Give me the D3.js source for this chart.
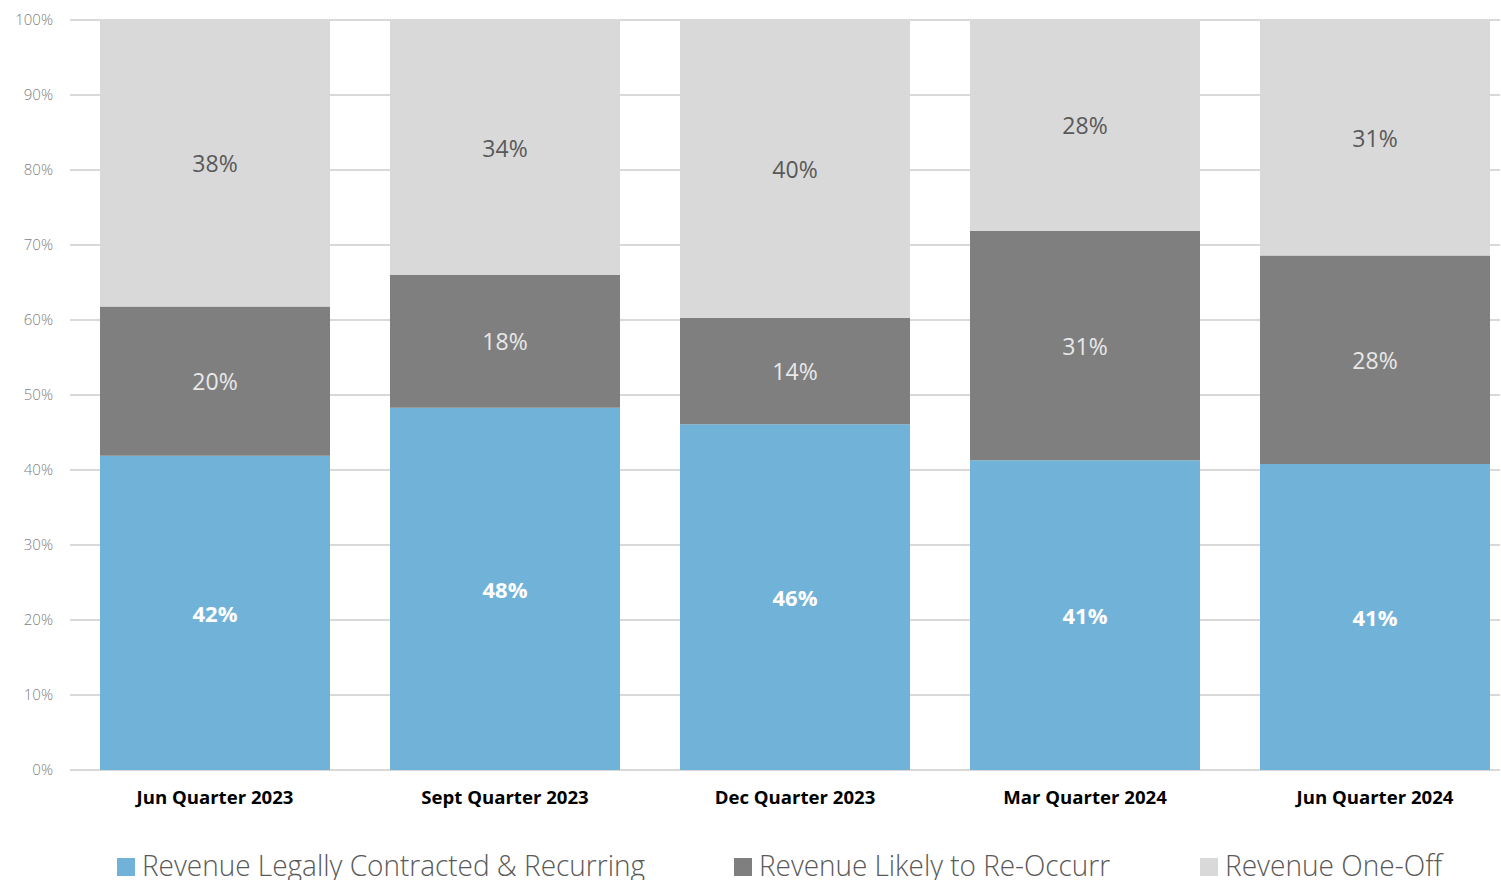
<!DOCTYPE html>
<html>
<head>
<meta charset="utf-8">
<script src="https://cdn.jsdelivr.net/npm/d3@7"></script>
<style>
  body { margin: 0; background: #fff; }
  svg { display: block; font-family: "Open Sans", sans-serif; }
</style>
</head>
<body>
<div id="chart"></div>
<script>
var categories = [
  "Jun Quarter 2023",
  "Sept Quarter 2023",
  "Dec Quarter 2023",
  "Mar Quarter 2024",
  "Jun Quarter 2024",
];
var seriesNames = [
  "Revenue Legally Contracted & Recurring",
  "Revenue Likely to Re-Occurr",
  "Revenue One-Off",
];
var contracted = [41.9, 48.3, 46.1, 41.3, 40.8];
var likely = [19.9, 17.7, 14.2, 30.6, 27.8];
var oneOff = [38.2, 34.0, 39.7, 28.1, 31.4];
var yTicks = [0, 10, 20, 30, 40, 50, 60, 70, 80, 90, 100];

var width = 1501,
  height = 880;
var colors = ["#71b2d9", "#7f7f7f", "#d9d9d9"];
var labelColors = ["#ffffff", "#e8e8e8", "#595959"];

var svg = d3
  .select("#chart")
  .append("svg")
  .attr("width", width)
  .attr("height", height);

var x = d3
  .scaleBand()
  .domain(categories)
  .range([70, 1520])
  .paddingInner(60 / 290)
  .paddingOuter(30 / 290);

var y = d3.scaleLinear().domain([0, 100]).range([770, 20]);

// gridlines
svg
  .selectAll(".grid")
  .data(yTicks)
  .enter()
  .append("line")
  .attr("x1", 70)
  .attr("x2", 1500)
  .attr("y1", (d) => y(d))
  .attr("y2", (d) => y(d))
  .style("stroke", "#d9d9d9")
  .style("stroke-width", "2px");

// y tick labels
svg
  .selectAll(".ytick")
  .data(yTicks)
  .enter()
  .append("text")
  .attr("x", 53)
  .attr("y", (d) => y(d) + 5)
  .attr("text-anchor", "end")
  .style("font-size", "15px")
  .style("font-weight", 300)
  .attr("fill", "#7f7f7f")
  .text((d) => d + "%");

// stack the data
var rows = categories.map(function (c, i) {
  return { cat: c, s0: contracted[i], s1: likely[i], s2: oneOff[i] };
});
var stack = d3.stack().keys(["s0", "s1", "s2"]);
var layers = stack(rows);

layers.forEach(function (layer, li) {
  svg
    .selectAll(".bar" + li)
    .data(layer)
    .enter()
    .append("rect")
    .attr("x", (d) => x(d.data.cat))
    .attr("width", x.bandwidth())
    .attr("y", (d) => y(d[1]))
    .attr("height", (d) => y(d[0]) - y(d[1]))
    .style("fill", colors[li]);

  svg
    .selectAll(".lab" + li)
    .data(layer)
    .enter()
    .append("text")
    .attr("x", (d) => x(d.data.cat) + x.bandwidth() / 2)
    .attr("y", (d) => (y(d[0]) + y(d[1])) / 2 + 9)
    .attr("text-anchor", "middle")
    .style("font-size", li == 0 ? "22px" : "23px")
    .style("font-weight", li == 0 ? 700 : 400)
    .attr("fill", labelColors[li])
    .text((d) => Math.round(d[1] - d[0]) + "%");
});

// x axis category labels
svg
  .selectAll(".xlab")
  .data(categories)
  .enter()
  .append("text")
  .attr("x", (d) => x(d) + x.bandwidth() / 2)
  .attr("y", 804)
  .attr("text-anchor", "middle")
  .style("font-size", "18.6px")
  .style("font-weight", 700)
  .attr("fill", "#000")
  .text((d) => d);

// legend
var legendX = [117, 734, 1200];
var legendW = [503, 351, 217];
var legend = svg
  .selectAll(".legend")
  .data(seriesNames)
  .enter()
  .append("g")
  .attr("transform", (d, i) => "translate(" + legendX[i] + ",858)");

legend
  .append("rect")
  .attr("width", 18)
  .attr("height", 18)
  .style("fill", (d, i) => colors[i]);

legend
  .append("text")
  .attr("x", 25)
  .attr("y", 18)
  .style("font-size", "29px")
  .style("font-weight", 300)
  .attr("fill", "#595959")
  .attr("textLength", (d, i) => legendW[i])
  .attr("lengthAdjust", "spacingAndGlyphs")
  .text((d) => d);
</script>
</body>
</html>
